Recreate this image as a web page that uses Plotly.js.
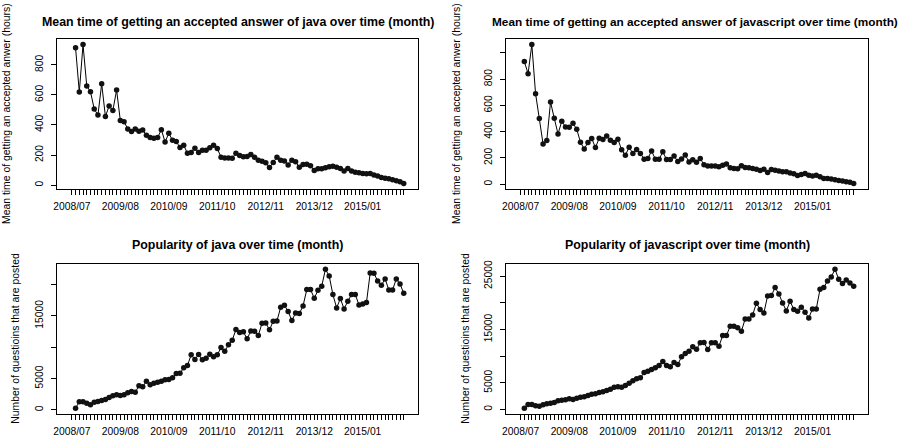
<!DOCTYPE html>
<html>
<head>
<meta charset="utf-8">
<script src="https://cdn.plot.ly/plotly-3.0.1.min.js"></script>
<style>
  html, body { margin: 0; padding: 0; background: #ffffff; }
  #chart { width: 900px; height: 444px; }
</style>
</head>
<body>
<div id="chart"></div>
<script>
// Monthly axis: 2008/07 .. 2015/12 (one tick per month, a label every 13 months)
const startYear = 2008, startMonth = 7, monthCount = 90;
const months = [];
for (let k = 0; k < monthCount; k++) {
  const m = startMonth - 1 + k;
  const y = startYear + Math.floor(m / 12);
  const mm = (m % 12) + 1;
  months.push(y + '/' + (mm < 10 ? '0' + mm : '' + mm));
}
const labelEvery = 13;
const monthLabels = months.map((m, i) => (i % labelEvery === 0 ? m : ''));

// Observed months (the series start one month after the first axis tick)
const observedMonths = months.slice(1);

// Mean time (hours) until an accepted answer
const javaMeanHours = [913, 619, 935, 659, 621, 506, 466, 674, 457, 526,
  497, 632, 429, 422, 373, 356, 373, 358, 367, 331,
  316, 312, 316, 369, 287, 345, 298, 290, 250, 265,
  212, 217, 245, 217, 232, 232, 248, 265, 243, 186,
  181, 181, 179, 212, 197, 188, 190, 203, 186, 166,
  159, 148, 117, 150, 186, 166, 161, 133, 166, 155,
  119, 137, 139, 128, 97, 108, 108, 115, 122, 126,
  119, 110, 93, 110, 93, 86, 82, 77, 75, 77,
  68, 60, 51, 46, 42, 35, 29, 22, 11];

const jsMeanHours = [934, 841, 1063, 689, 499, 306, 332, 625, 501, 382,
  479, 435, 433, 463, 418, 319, 268, 316, 347, 279,
  349, 339, 367, 334, 316, 342, 261, 220, 281, 233,
  263, 233, 190, 195, 253, 190, 190, 246, 187, 187,
  215, 172, 191, 222, 168, 185, 167, 195, 147, 137,
  137, 137, 132, 144, 154, 124, 119, 116, 139, 127,
  124, 119, 114, 104, 114, 89, 111, 106, 99, 94,
  94, 84, 78, 66, 73, 81, 68, 61, 68, 56,
  43, 43, 38, 33, 28, 23, 18, 15, 5];

// Number of questions posted per month
const javaQuestions = [266, 1277, 1277, 1064, 798, 1223, 1330, 1489, 1649, 1968,
  2234, 2394, 2287, 2394, 2713, 2926, 2819, 3830, 3670, 4574,
  3989, 4255, 4415, 4574, 4787, 4840, 5106, 5798, 5851, 6702,
  7074, 8777, 8032, 8830, 7979, 8245, 8883, 8457, 8777, 9947,
  9362, 10372, 11100, 12819, 12340, 12447, 11330, 12606, 12553, 11862,
  13830, 13883, 12766, 14149, 14202, 16383, 16702, 15691, 14255, 15479,
  15372, 16596, 19202, 19202, 17819, 19096, 19734, 22447, 21383, 18404,
  16277, 17766, 16117, 17340, 18404, 18404, 16755, 16915, 17128, 21862,
  21809, 20585, 19894, 20904, 19149, 19149, 20904, 20106, 18617];

const jsQuestions = [250, 938, 938, 688, 625, 875, 1063, 1188, 1313, 1625,
  1750, 1813, 2000, 1875, 2125, 2313, 2375, 2625, 2875, 2938,
  3188, 3313, 3563, 3813, 4188, 4250, 4188, 4500, 4938, 5375,
  5750, 5938, 6938, 7188, 7500, 7813, 8250, 9000, 8250, 8000,
  8813, 8438, 9900, 10500, 10938, 11750, 11313, 12500, 12563, 11250,
  12500, 12500, 11875, 13875, 13875, 15625, 15625, 15313, 14688, 17000,
  17000, 17750, 19938, 18750, 18125, 21313, 21375, 22875, 21688, 20000,
  18500, 20313, 18750, 18438, 19188, 18250, 17188, 18875, 18875, 22563,
  22875, 24125, 24875, 26313, 24438, 23625, 24313, 23750, 23125];

// Y tick marks and their printed labels
const hoursTicks = [0, 200, 400, 600, 800, 1000];
const hoursTickText = ['0', '200', '400', '600', '800', ''];
const javaQTicks = [0, 5000, 10000, 15000, 20000];
const javaQTickText = ['0', '5000', '', '15000', ''];
const jsQTicks = [0, 5000, 10000, 15000, 20000, 25000];
const jsQTickText = ['0', '5000', '', '15000', '', '25000'];

const titles = [
  'Mean time of getting an accepted answer of java over time (month)',
  'Mean time of getting an accepted answer of javascript over time (month)',
  'Popularity of java over time (month)',
  'Popularity of javascript over time (month)'
];
const yTitles = [
  'Mean time of getting an accepted anwer (hours)',
  'Number of questioins that are posted'
];

// ---------- drawing ----------
const W = 900, H = 444;
const FONT = 'Liberation Sans, Arial, Helvetica, sans-serif';
const tickFont = { family: FONT, size: 10.3, color: '#000' };

// padded range (4% on each side of the data span)
function padRange(vals) {
  const lo = Math.min(...vals), hi = Math.max(...vals);
  const d = (hi - lo) * 0.04;
  return [lo - d, hi + d];
}

// panel boxes in pixels: [left, right, top, bottom]
const boxes = [
  [57.3, 418.3, 39, 189],
  [506, 868.3, 39, 189],
  [57.3, 418.3, 263.7, 413.7],
  [506, 868.3, 263.7, 413.7]
];

const series = [javaMeanHours, jsMeanHours, javaQuestions, jsQuestions];
const yTicks = [[hoursTicks, hoursTickText], [hoursTicks, hoursTickText],
                [javaQTicks, javaQTickText], [jsQTicks, jsQTickText]];

const traces = [];
const layout = {
  width: W, height: H,
  margin: { l: 0, r: 0, t: 0, b: 0 },
  paper_bgcolor: '#fff', plot_bgcolor: '#fff',
  showlegend: false,
  font: { family: FONT, color: '#000' },
  annotations: []
};

series.forEach((vals, k) => {
  const sfx = k === 0 ? '' : String(k + 1);
  traces.push({
    type: 'scatter', mode: 'lines+markers',
    x: observedMonths, y: vals,
    xaxis: 'x' + sfx, yaxis: 'y' + sfx,
    line: { color: '#000', width: 1 },
    marker: { color: '#111', size: 5.5, line: { width: 0 } },
    hoverinfo: 'x+y'
  });
  const b = boxes[k];
  layout['xaxis' + sfx] = {
    domain: [b[0] / W, b[1] / W], anchor: 'y' + sfx,
    type: 'category', categoryorder: 'array', categoryarray: months,
    range: [-3.9, 92.9],
    tickmode: 'array', tickvals: months, ticktext: monthLabels,
    ticks: 'outside', ticklen: 5, tickwidth: 1, tickcolor: '#000',
    tickangle: 0, tickfont: tickFont, ticklabelstandoff: 3,
    showline: true, linecolor: '#000', linewidth: 1, mirror: true,
    showgrid: false, zeroline: false, automargin: false, fixedrange: true
  };
  layout['yaxis' + sfx] = {
    domain: [1 - b[3] / H, 1 - b[2] / H], anchor: 'x' + sfx,
    range: padRange(vals),
    tickmode: 'array', tickvals: yTicks[k][0], ticktext: yTicks[k][1],
    ticks: 'outside', ticklen: 5, tickwidth: 1, tickcolor: '#000',
    tickangle: -90, tickfont: tickFont, ticklabelstandoff: 4,
    showline: true, linecolor: '#000', linewidth: 1, mirror: true,
    showgrid: false, zeroline: false, automargin: false, fixedrange: true
  };
  // panel title (the long upper-right one is set a bit smaller to fit the page)
  const longTitle = (k === 1);
  layout.annotations.push({
    xref: 'paper', yref: 'paper',
    x: longTitle ? 490 / W : (b[0] + b[1]) / 2 / W,
    y: 1 - (k < 2 ? 21.7 : 245.3) / H,
    xanchor: longTitle ? 'left' : 'center', yanchor: 'middle', showarrow: false,
    text: titles[k],
    font: { family: FONT, size: longTitle ? 11.8 : 12.4, weight: 'bold', color: '#000' }
  });
  // y axis title
  layout.annotations.push({
    xref: 'paper', yref: 'paper',
    x: ((k % 2 === 0 ? 0 : 450) + (k < 2 ? 6 : 16)) / W,
    y: 1 - ((b[2] + b[3]) / 2) / H,
    xanchor: 'center', yanchor: 'middle', showarrow: false,
    textangle: -90,
    text: yTitles[k < 2 ? 0 : 1],
    font: { family: FONT, size: 10.4, color: '#000' }
  });
});

Plotly.newPlot('chart', traces, layout, { staticPlot: true, displayModeBar: false });
</script>
</body>
</html>
